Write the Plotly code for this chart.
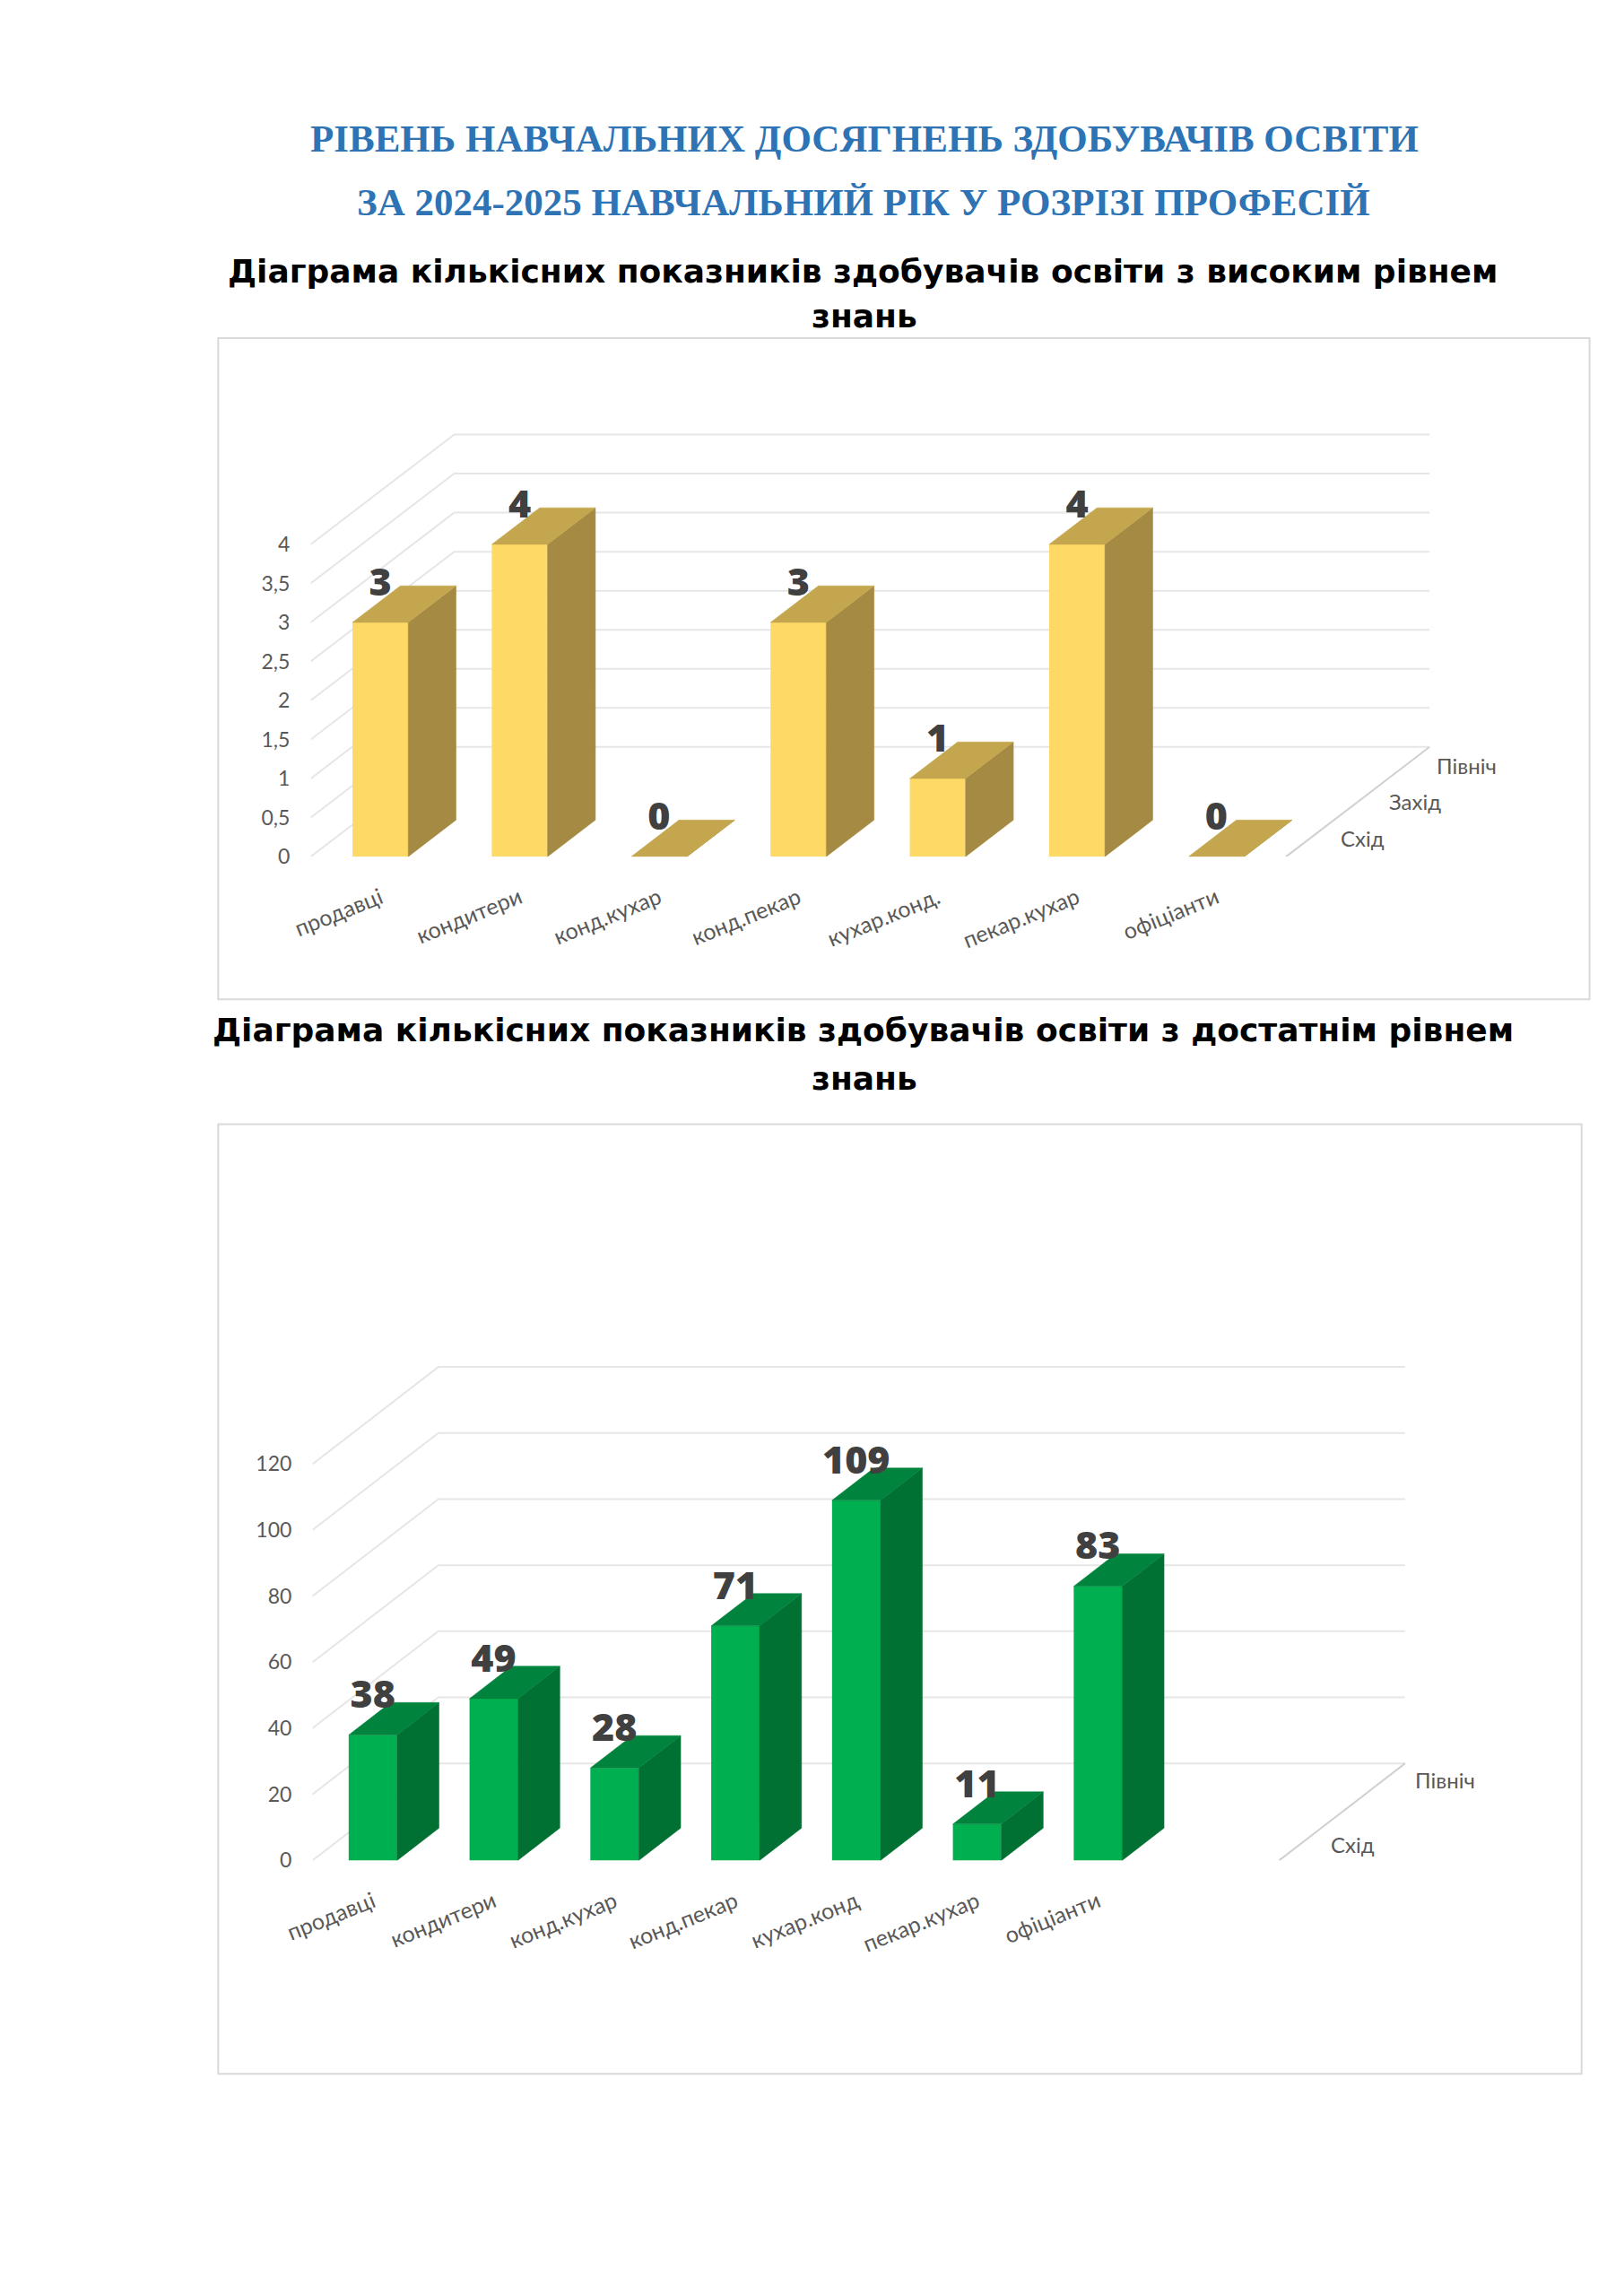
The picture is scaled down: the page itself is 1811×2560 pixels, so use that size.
import plotly.graph_objects as go

# ---------------- data ----------------
page_title_1 = "РІВЕНЬ НАВЧАЛЬНИХ ДОСЯГНЕНЬ ЗДОБУВАЧІВ ОСВІТИ"
page_title_2 = "ЗА 2024-2025 НАВЧАЛЬНИЙ РІК У РОЗРІЗІ ПРОФЕСІЙ"

high_title = ["Діаграма кількісних показників здобувачів освіти з високим рівнем", "знань"]
high_categories = ["продавці", "кондитери", "конд.кухар", "конд.пекар", "кухар.конд.", "пекар.кухар", "офіціанти"]
high_values = [3, 4, 0, 3, 1, 4, 0]
high_ticks = [0, 0.5, 1, 1.5, 2, 2.5, 3, 3.5, 4]
high_tick_labels = ["0", "0,5", "1", "1,5", "2", "2,5", "3", "3,5", "4"]
high_series = ["Схід", "Захід", "Північ"]

suff_title = ["Діаграма кількісних показників здобувачів освіти з достатнім рівнем", "знань"]
suff_categories = ["продавці", "кондитери", "конд.кухар", "конд.пекар", "кухар.конд", "пекар.кухар", "офіціанти"]
suff_values = [38, 49, 28, 71, 109, 11, 83]
suff_ticks = [0, 20, 40, 60, 80, 100, 120]
suff_tick_labels = ["0", "20", "40", "60", "80", "100", "120"]
suff_series = ["Схід", "Північ"]

# ---------------- layout constants (pixels on the page) ----------------
PAGE_W, PAGE_H = 1811, 2560
OFF = 8                      # default body margin of the html page
W, H = PAGE_W - 2 * OFF, PAGE_H - 2 * OFF
GRID = "#E6E6E6"
AXIS_TXT = "#595959"
LABEL_TXT = "#404040"
TICK_FONT = "Lato, 'Open Sans', sans-serif"


def fx(px):
    return (px - OFF) / W


def fy(py):
    return 1 - (py - OFF) / H


C1 = dict(ax="", left=320, pitch=158.2, zero=960, unit=87.5, right=1772, top=379,
          wdx=163, wdy=123, ncat=7, depth=[1/6, 3/6, 5/6], lab_dy=0,
          front="#FFD966", topc="#C3A64E", side="#A48A42",
          frame=(215, 379, 1772, 1120))
C2 = dict(ax="2", left=322, pitch=137.2, zero=2085, unit=3.7025, right=1763, top=1260,
          wdx=143, wdy=108.8, ncat=8, depth=[1/6, 5/6], lab_dy=5,
          front="#00B050", topc="#00843D", side="#007033",
          frame=(215, 1260, 1763, 2324))

fig = go.Figure()
shapes = []
annotations = []


def build(c, cats, vals, ticks, tick_labels, series):
    xa = "x" + c["ax"]
    ya = "y" + c["ax"]
    wdx = c["wdx"] / c["pitch"]
    wdy = c["wdy"] / c["unit"]
    bdx, bdy = wdx / 3, wdy / 3
    h = 0.2
    xend = c["ncat"] - 0.5

    # walls (gridlines)
    for v in ticks:
        shapes.append(dict(type="path", xref=xa, yref=ya, layer="below",
                           path=f"M -0.5,{v} L {-0.5 + wdx},{v + wdy} L {xend + wdx},{v + wdy}",
                           line=dict(color=GRID, width=2)))
    shapes.append(dict(type="path", xref=xa, yref=ya, layer="below",
                       path=f"M {xend},0 L {xend + wdx},{wdy}",
                       line=dict(color="#D0D0D0", width=2)))

    xs = list(range(len(cats)))
    # front faces
    fig.add_trace(go.Bar(x=xs, y=vals, width=2 * h, xaxis=xa, yaxis=ya,
                         marker=dict(color=c["front"], line=dict(width=0)),
                         hoverinfo="skip", showlegend=False))
    # side and top faces
    sx, sy, tx, ty = [], [], [], []
    for k, v in zip(xs, vals):
        sx += [k + h, k + h + bdx, k + h + bdx, k + h, k + h, None]
        sy += [0, bdy, v + bdy, v, 0, None]
        tx += [k - h, k + h, k + h + bdx, k - h + bdx, k - h, None]
        ty += [v, v, v + bdy, v + bdy, v, None]
    fig.add_trace(go.Scatter(x=sx, y=sy, xaxis=xa, yaxis=ya, mode="lines", fill="toself",
                             fillcolor=c["side"], line=dict(color=c["side"], width=0.5),
                             hoverinfo="skip", showlegend=False))
    fig.add_trace(go.Scatter(x=tx, y=ty, xaxis=xa, yaxis=ya, mode="lines", fill="toself",
                             fillcolor=c["topc"], line=dict(color=c["topc"], width=0.5),
                             hoverinfo="skip", showlegend=False))
    # value labels
    fig.add_trace(go.Scatter(x=xs, y=[v + bdy + c["lab_dy"] / c["unit"] for v in vals],
                             xaxis=xa, yaxis=ya, mode="text",
                             text=[str(v) for v in vals], textposition="middle center",
                             textfont=dict(family="'Open Sans', Lato, sans-serif", size=43,
                                           color=LABEL_TXT, weight=800),
                             cliponaxis=False, hoverinfo="skip", showlegend=False))
    # depth-axis labels
    for name, d in zip(series, c["depth"]):
        annotations.append(dict(xref=xa, yref=ya, x=xend + wdx * d + 33 / c["pitch"], y=wdy * d,
                                text=name, showarrow=False, xanchor="left", yanchor="middle",
                                font=dict(family=TICK_FONT, size=24, color=AXIS_TXT)))

    xr = [-0.5, (c["right"] - c["left"]) / c["pitch"] - 0.5]
    yr = [0, (c["zero"] - c["top"]) / c["unit"]]
    axis_x = dict(domain=[fx(c["left"]), fx(c["right"])], range=xr, tickvals=xs, ticktext=cats,
                  tickangle=-22, showgrid=False, zeroline=False, showline=False, ticks="",
                  tickfont=dict(family=TICK_FONT, size=25, color=AXIS_TXT),
                  anchor=ya, fixedrange=True, ticklabelstandoff=26)
    axis_y = dict(domain=[fy(c["zero"]), fy(c["top"])], range=yr, tickvals=ticks,
                  ticktext=tick_labels, showgrid=False, zeroline=False, showline=False, ticks="",
                  tickfont=dict(family=TICK_FONT, size=23, color=AXIS_TXT),
                  anchor=xa, fixedrange=True, ticklabelstandoff=22)
    fig.update_layout(**{"xaxis" + c["ax"]: axis_x, "yaxis" + c["ax"]: axis_y})

    x0, y0, x1, y1 = c["frame"]
    shapes.append(dict(type="rect", xref="paper", yref="paper", layer="below",
                       x0=fx(x0), x1=fx(x1), y0=fy(y0), y1=fy(y1),
                       line=dict(color="#D9D9D9", width=2), fillcolor="rgba(0,0,0,0)"))


build(C1, high_categories, high_values, high_ticks, high_tick_labels, high_series)
build(C2, suff_categories, suff_values, suff_ticks, suff_tick_labels, suff_series)


def page_text(text, cx, cy, family, size, color):
    annotations.append(dict(xref="paper", yref="paper", x=fx(cx), y=fy(cy), text=text,
                            showarrow=False, xanchor="center", yanchor="middle",
                            font=dict(family=family, size=size, color=color, weight="bold")))


SERIF = "'Liberation Serif', 'Times New Roman', serif"
HEAVY = "'DejaVu Sans', sans-serif"
page_text(page_title_1, 949, 155, SERIF, 43, "#2E74B5")
page_text(page_title_2, 948, 227, SERIF, 43, "#2E74B5")
page_text(high_title[0], 947, 304, HEAVY, 36, "#000000")
page_text(high_title[1], 949, 354, HEAVY, 36, "#000000")
page_text(suff_title[0], 947, 1154, HEAVY, 36, "#000000")
page_text(suff_title[1], 949, 1209, HEAVY, 36, "#000000")

fig.update_layout(width=W, height=H, margin=dict(l=0, r=0, t=0, b=0, pad=0),
                  paper_bgcolor="white", plot_bgcolor="white", showlegend=False,
                  barmode="overlay", shapes=shapes, annotations=annotations)

fig.write_html("out.html")
